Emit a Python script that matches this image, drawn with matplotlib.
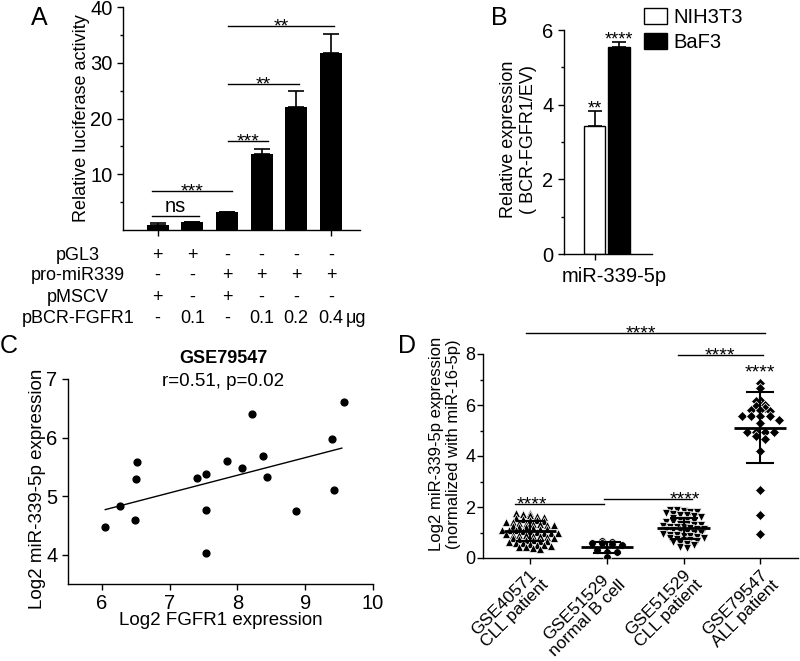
import numpy as np
import matplotlib
matplotlib.use("Agg")
import matplotlib.pyplot as plt
from matplotlib.patches import Patch
import matplotlib.transforms as mtransforms

plt.rcParams['font.family'] = ['Liberation Sans', 'DejaVu Sans']
plt.rcParams['axes.linewidth'] = 1.0
plt.rcParams['xtick.major.width'] = 1.0
plt.rcParams['ytick.major.width'] = 1.0
plt.rcParams['ytick.minor.width'] = 1.0
plt.rcParams['xtick.major.size'] = 4
plt.rcParams['ytick.major.size'] = 4
plt.rcParams['ytick.minor.size'] = 2.5

# ---- data -----------------------------------------------------------------
# panel A
a_values = [0.95, 1.35, 3.2, 13.7, 22.1, 31.7]
a_errors = [0.25, 0.1, 0.1, 0.9, 2.8, 3.4]
a_rows = ["pGL3", "pro-miR339", "pMSCV", "pBCR-FGFR1"]
a_table = [["+", "+", "-", "-", "-", "-"],
           ["-", "-", "+", "+", "+", "+"],
           ["+", "-", "+", "-", "-", "-"],
           ["-", "0.1", "-", "0.1", "0.2", "0.4"]]
# (x start, x end, y, label)
a_sig = [(-0.17, 1.18, 2.5, "ns"),
         (-0.17, 2.14, 7.0, "***"),
         (2.02, 3.18, 16.0, "***"),
         (2.02, 4.08, 26.2, "**"),
         (2.02, 5.09, 36.6, "**")]

# panel B
b_groups = ["NIH3T3", "BaF3"]
b_values = [3.42, 5.55]
b_errors = [0.4, 0.14]
b_stars = ["**", "****"]

# panel C
c_x = [6.04, 6.26, 6.49, 6.51, 6.52, 7.40, 7.54, 7.54, 7.54, 7.84, 8.06,
       8.22, 8.38, 8.43, 8.87, 9.39, 9.43, 9.57]
c_y = [4.47, 4.83, 4.60, 5.30, 5.59, 5.31, 5.37, 4.77, 4.03, 5.60, 5.48,
       6.40, 5.68, 5.32, 4.75, 5.97, 5.10, 6.60]
c_fit_x = [6.05, 9.54]
c_fit_y = [4.77, 5.82]

# panel D
d_labels = ["GSE40571\nCLL patient", "GSE51529\nnormal B cell",
            "GSE51529\nCLL patient", "GSE79547\nALL patient"]
d_g1 = [1.78, 1.75, 1.72, 1.68, 1.65, 1.6, 1.55, 1.52, 1.5, 1.5, 1.45, 1.42,
        1.4, 1.38, 1.35, 1.35, 1.32, 1.3, 1.28, 1.25, 1.22, 1.2, 1.18, 1.15,
        1.12, 1.1, 1.1, 1.08, 1.05, 1.05, 1.02, 1.0, 1.0, 0.98, 0.95, 0.92,
        0.9, 0.9, 0.88, 0.85, 0.82, 0.8, 0.78, 0.75, 0.72, 0.7, 0.68, 0.65,
        0.62, 0.6, 0.58, 0.55, 0.52, 0.5, 0.48, 0.45, 0.42, 0.38, 0.35]
d_g2 = [0.65, 0.62, 0.6, 0.58, 0.55, 0.5, 0.3, 0.25, 0.22, 0.02]
d_g3 = [1.9, 1.88, 1.85, 1.82, 1.8, 1.75, 1.72, 1.7, 1.68, 1.65, 1.6, 1.55,
        1.5, 1.48, 1.45, 1.42, 1.4, 1.35, 1.32, 1.3, 1.28, 1.25, 1.22, 1.2,
        1.2, 1.18, 1.15, 1.12, 1.1, 1.08, 1.05, 1.02, 1.0, 0.98, 0.95, 0.92,
        0.9, 0.88, 0.85, 0.82, 0.8, 0.78, 0.75, 0.72, 0.7, 0.65, 0.62, 0.58,
        0.55, 0.5, 0.45, 0.4]
d_g4 = [6.85, 6.65, 6.2, 6.15, 6.0, 5.95, 5.9, 5.8, 5.8, 5.75, 5.55, 5.55,
        5.55, 5.55, 5.4, 5.3, 4.95, 4.95, 4.95, 4.95, 4.8, 4.65, 4.2, 2.65,
        1.7, 0.95]
d_groups = [d_g1, d_g2, d_g3, d_g4]
d_markers = ["^", "o", "v", "D"]
d_sig = [(-0.05, 3.06, 8.84, 1.45, "****"),
         (1.93, 3.04, 7.96, 2.48, "****"),
         (-0.2, 0.96, 2.12, 0.03, "****"),
         (0.96, 2.11, 2.31, 2.02, "****")]

W, H = 800, 661
fig = plt.figure(figsize=(8, 6.61), dpi=100)


def rect(left, right, top, bottom):
    return [left / W, 1 - bottom / H, (right - left) / W, (bottom - top) / H]


def clean(ax, size=14.5):
    ax.spines['top'].set_visible(False)
    ax.spines['right'].set_visible(False)
    ax.tick_params(labelsize=size, color='black')


def star(ax, x, y, s, size=14):
    ax.annotate(s, xy=(x, y), xytext=(0, -4), textcoords='offset points',
                ha='center', va='baseline', fontsize=size, annotation_clip=False)


# ---- A ---------------------------------------------------------------------
axA = fig.add_axes(rect(123, 360, 7, 230))
clean(axA)
xa = np.arange(len(a_values))
axA.bar(xa, a_values, width=0.64, color='black')
axA.errorbar(xa, a_values, yerr=[np.zeros(len(a_errors)), a_errors], fmt='none',
             ecolor='black', elinewidth=1.2, capsize=6, capthick=1.2)
axA.set_xlim(-1.0, 5.84)
axA.set_ylim(0, 40)
axA.set_yticks([10, 20, 30, 40])
axA.set_yticks([5, 15, 25, 35], minor=True)
axA.set_xticks([0, 5])
axA.set_xticklabels([])
axA.set_ylabel("Relative luciferase activity", fontsize=13, va='center')
axA.yaxis.set_label_coords(-0.177, 0.5)
for x0, x1, y, s in a_sig:
    axA.plot([x0, x1], [y, y], color='black', lw=1.0)
    if s == "ns":
        axA.annotate(s, xy=((x0 + x1) / 2, y), xytext=(0, 3), textcoords='offset points',
                     ha='center', va='baseline', fontsize=14.5)
    else:
        star(axA, (x0 + x1) / 2, y, s)

trA = mtransforms.blended_transform_factory(axA.transData, fig.transFigure)
row_base = [260, 280, 302, 323]
for r, name in enumerate(a_rows):
    fy = 1 - row_base[r] / H
    fig.text(78 / W, fy, name, ha='center', va='baseline', fontsize=13)
    for i, s in enumerate(a_table[r]):
        axA.text(xa[i], fy, s, transform=trA, ha='center', va='baseline', fontsize=13)
axA.text(5.42, 1 - row_base[3] / H, "μg", transform=trA, ha='left', va='baseline', fontsize=13)

# ---- B ---------------------------------------------------------------------
axB = fig.add_axes(rect(564, 652, 30, 254))
clean(axB)
xb = np.arange(len(b_values))
axB.bar(xb, b_values, width=0.88, color=['white', 'black'], edgecolor='black', linewidth=1.0)
axB.errorbar(xb, b_values, yerr=[np.zeros(len(b_errors)), b_errors], fmt='none',
             ecolor='black', elinewidth=1.2, capsize=5, capthick=1.2)
for i, s in enumerate(b_stars):
    star(axB, xb[i], b_values[i] + b_errors[i] + 0.08, s, size=13)
axB.set_xlim(-1.25, 2.35)
axB.set_ylim(0, 6)
axB.set_yticks([0, 2, 4, 6])
axB.set_yticks([1, 3, 5], minor=True)
axB.set_xticks([0])
axB.set_xticklabels([""])
axB.text(0.8, -0.1, "miR-339-5p", transform=mtransforms.blended_transform_factory(axB.transData, axB.transAxes),
         ha='center', va='center', fontsize=14.5)
axB.set_ylabel("Relative expression\n( BCR-FGFR1/EV)", fontsize=13, va='center')
axB.yaxis.set_label_coords(-0.52, 0.51)
handles = [Patch(facecolor='white', edgecolor='black', linewidth=1.0),
           Patch(facecolor='black', edgecolor='black')]
fig.legend(handles, b_groups, loc='upper left', bbox_to_anchor=(644 / W, 1 - 8 / H),
           frameon=False, fontsize=14.5, handlelength=1.15, handleheight=0.85,
           handletextpad=0.3, labelspacing=0.3, borderpad=0, borderaxespad=0)

# ---- C ---------------------------------------------------------------------
axC = fig.add_axes(rect(68, 373, 379, 584))
clean(axC)
axC.scatter(c_x, c_y, s=24, color='black', zorder=3)
axC.plot(c_fit_x, c_fit_y, color='black', lw=1.0)
axC.set_xlim(5.5, 10)
axC.set_ylim(3.5, 7)
axC.set_xticks([6, 7, 8, 9, 10])
axC.set_yticks([4, 5, 6, 7])
axC.set_xlabel("Log2 FGFR1 expression", fontsize=13.5, va='center')
axC.xaxis.set_label_coords(0.5, -0.18)
axC.set_ylabel("Log2 miR-339-5p expression", fontsize=13.5, va='center')
axC.yaxis.set_label_coords(-0.1, 0.466)
axC.text(0.508, 1.10, "GSE79547", transform=axC.transAxes, ha='center', va='center',
         fontsize=13, fontweight='bold')
axC.text(0.508, 0.99, "r=0.51, p=0.02", transform=axC.transAxes, ha='center', va='center',
         fontsize=13.5)

# ---- D ---------------------------------------------------------------------
axD = fig.add_axes(rect(483, 798, 354, 558))
clean(axD, size=13)
axD.tick_params(axis='y', pad=1.5)
axD.tick_params(axis='x', pad=2)


def swarm_offsets(vals, bin_h, dx):
    vals = np.asarray(vals)
    bins = np.floor(vals / bin_h).astype(int)
    offs = np.zeros(len(vals))
    for b in np.unique(bins):
        idx = np.where(bins == b)[0]
        k = len(idx)
        offs[idx] = (np.arange(k) - (k - 1) / 2) * dx
    return offs


swarm_bins = [(0.16, 0.09), (0.2, 0.13), (0.16, 0.09), (0.2, 0.12)]
msizes = [6, 5.5, 6, 5]
for i, g in enumerate(d_groups):
    offs = swarm_offsets(g, *swarm_bins[i])
    axD.plot(i + offs, g, linestyle='none', marker=d_markers[i], markersize=msizes[i],
             color='black', markeredgewidth=0.5, markeredgecolor='white', zorder=3)
    m = np.mean(g)
    sd = np.std(g, ddof=1)
    axD.hlines(m, i - 0.34, i + 0.34, color='black', lw=2.0, zorder=4)
    axD.errorbar([i], [m], yerr=[[sd], [sd]], fmt='none', ecolor='black',
                 elinewidth=1.5, capsize=10, capthick=1.5, zorder=4)
for x0, x1, y, xt, s in d_sig:
    axD.plot([x0, x1], [y, y], color='black', lw=1.0, clip_on=False)
    star(axD, xt, y, s)
star(axD, 2.99, 7.3, "****")
axD.set_xlim(-0.61, 3.49)
axD.set_ylim(0, 8)
axD.set_yticks([0, 2, 4, 6, 8])
axD.set_yticks([1, 3, 5, 7], minor=True)
axD.set_xticks(range(4))
axD.set_xticklabels(d_labels, rotation=45, ha='right', rotation_mode='anchor',
                    multialignment='center', fontsize=12.5, linespacing=1.05)
axD.set_ylabel("Log2 miR-339-5p expression\n(normalized with miR-16-5p)", fontsize=12,
               va='center')
axD.yaxis.set_label_coords(-0.12, 0.56)

# panel letters
for s, px, py in [("A", 31, 6), ("B", 491, 6), ("C", 0, 334), ("D", 398, 334)]:
    fig.text(px / W, 1 - py / H, s, fontsize=18, ha='left', va='top')

fig.savefig("out.png", dpi=100)
